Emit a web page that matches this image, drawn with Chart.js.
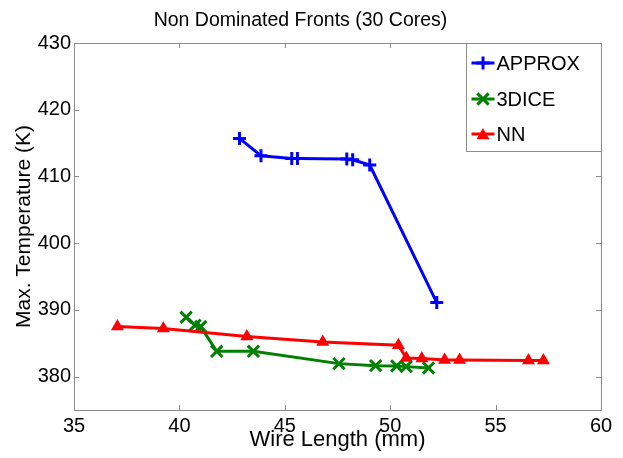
<!DOCTYPE html>
<html>
<head>
<meta charset="utf-8">
<script src="https://cdn.jsdelivr.net/npm/chart.js@4/dist/chart.umd.min.js"></script>
<style>
  body { margin: 0; background: #fff; }
  #wrap { width: 623px; height: 458px; position: relative; }
</style>
</head>
<body>
<div id="wrap"><canvas id="chart"></canvas></div>
<script>
const FONT = "'Liberation Sans', Arial, sans-serif";
const AXIS_GRAY = '#8c8c8c';

const xTicks = [35, 40, 45, 50, 55, 60];
const yTicks = [380, 390, 400, 410, 420, 430];

const approxX = [42.85, 43.87, 45.33, 45.6, 47.94, 48.22, 49.03, 52.21];
const approxY = [415.7, 413.1, 412.7, 412.7, 412.6, 412.5, 411.7, 391.1];

const diceX = [40.32, 40.74, 41.01, 41.77, 43.51, 47.57, 49.31, 50.31, 50.76, 51.82];
const diceY = [388.9, 387.7, 387.5, 383.8, 383.8, 381.95, 381.65, 381.6, 381.5, 381.3];

const nnX = [37.06, 39.24, 43.2, 46.8, 50.39, 50.76, 51.5, 52.58, 53.29, 56.56, 57.27];
const nnY = [387.5, 387.2, 386.0, 385.2, 384.7, 382.8, 382.7, 382.5, 382.5, 382.4, 382.4];

const toPoints = (xs, ys) => xs.map((x, i) => ({x: x, y: ys[i]}));

// box, inward ticks and the boxed legend
const framePlugin = {
    id: 'frame',
    afterDraw(chart) {
        const ctx = chart.ctx;
        const a = chart.chartArea;
        const xs = chart.scales.x, ys = chart.scales.y;
        ctx.save();
        ctx.strokeStyle = AXIS_GRAY;
        ctx.lineWidth = 1;
        ctx.strokeRect(Math.round(a.left) + 0.5, Math.round(a.top) + 0.5,
            Math.round(a.right - a.left), Math.round(a.bottom - a.top));
        ctx.beginPath();
        xTicks.forEach(v => {
            const px = Math.round(xs.getPixelForValue(v)) + 0.5;
            ctx.moveTo(px, a.bottom); ctx.lineTo(px, a.bottom - 5);
            ctx.moveTo(px, a.top); ctx.lineTo(px, a.top + 5);
        });
        [375].concat(yTicks).forEach(v => {
            const py = Math.round(ys.getPixelForValue(v)) + 0.5;
            ctx.moveTo(a.left, py); ctx.lineTo(a.left + 5, py);
            ctx.moveTo(a.right, py); ctx.lineTo(a.right - 5, py);
        });
        ctx.stroke();

        // legend
        const lw = 135, lh = 108;
        const lx = Math.round(a.right) - lw + 0.5, ly = Math.round(a.top) + 0.5;
        ctx.fillStyle = '#fff';
        ctx.fillRect(lx, ly, lw, lh);
        ctx.strokeStyle = AXIS_GRAY;
        ctx.strokeRect(lx, ly, lw, lh);
        const rows = [19.5, 55.5, 90.5];
        chart.data.datasets.forEach((ds, i) => {
            const ry = ly + rows[i];
            ctx.strokeStyle = ds.borderColor;
            ctx.fillStyle = ds.borderColor;
            ctx.lineWidth = 3;
            ctx.beginPath();
            ctx.moveTo(lx + 5, ry); ctx.lineTo(lx + 28, ry);
            ctx.stroke();
            ctx.lineWidth = ds.pointBorderWidth;
            Chart.helpers.drawPoint(ctx, {
                pointStyle: ds.pointStyle, radius: ds.pointRadius,
                rotation: 0, borderWidth: ds.pointBorderWidth
            }, lx + 16.5, ry + (ds.pointStyle === 'triangle' ? 1.5 : 0));
            ctx.fillStyle = '#000';
            ctx.font = '20px ' + FONT;
            ctx.textBaseline = 'middle';
            ctx.textAlign = 'left';
            ctx.fillText(ds.label, lx + 30, ry + 1);
        });
        ctx.restore();
    }
};

new Chart(document.getElementById('chart'), {
    type: 'scatter',
    data: {
        datasets: [{
            label: 'APPROX',
            data: toPoints(approxX, approxY),
            showLine: true,
            borderColor: '#0000ff',
            backgroundColor: '#0000ff',
            borderWidth: 3,
            pointStyle: 'cross',
            pointRadius: 6.5,
            pointBorderWidth: 3,
            order: 3
        }, {
            label: '3DICE',
            data: toPoints(diceX, diceY),
            showLine: true,
            borderColor: '#008000',
            backgroundColor: '#008000',
            borderWidth: 3,
            pointStyle: 'crossRot',
            pointRadius: 8,
            pointBorderWidth: 3,
            order: 2
        }, {
            label: 'NN',
            data: toPoints(nnX, nnY),
            showLine: true,
            borderColor: '#ff0000',
            backgroundColor: '#ff0000',
            borderWidth: 3,
            pointStyle: 'triangle',
            pointRadius: 6,
            pointBorderWidth: 1.5,
            order: 1
        }]
    },
    options: {
        responsive: true,
        maintainAspectRatio: false,
        animation: false,
        layout: { padding: { top: 0, right: 22, bottom: 0, left: 0 } },
        plugins: {
            legend: { display: false },
            tooltip: { enabled: false },
            title: {
                display: true,
                text: 'Non Dominated Fronts (30 Cores)',
                color: '#000',
                font: { family: FONT, size: 19.5, weight: 'normal' },
                padding: { top: 9, bottom: 10.6 }
            }
        },
        scales: {
            x: {
                type: 'linear',
                min: 35,
                max: 60,
                afterBuildTicks: s => { s.ticks = xTicks.map(v => ({value: v})); },
                afterFit: s => { s.height = 48; },
                grid: { display: false, drawTicks: false },
                border: { display: false },
                ticks: { color: '#000', padding: 4, font: { family: FONT, size: 20 } },
                title: {
                    display: true,
                    text: 'Wire Length (mm)',
                    color: '#000',
                    font: { family: FONT, size: 22 },
                    padding: { top: 0, bottom: 5 }
                }
            },
            y: {
                type: 'linear',
                min: 375,
                max: 430,
                afterBuildTicks: s => { s.ticks = yTicks.map(v => ({value: v})); },
                afterFit: s => { s.width = 74; },
                grid: { display: false, drawTicks: false },
                border: { display: false },
                ticks: { color: '#000', padding: 3, font: { family: FONT, size: 20 } },
                title: {
                    display: true,
                    text: 'Max. Temperature (K)',
                    color: '#000',
                    font: { family: FONT, size: 21 },
                    padding: { top: 12, bottom: 0 }
                }
            }
        }
    },
    plugins: [framePlugin]
});
</script>
</body>
</html>
